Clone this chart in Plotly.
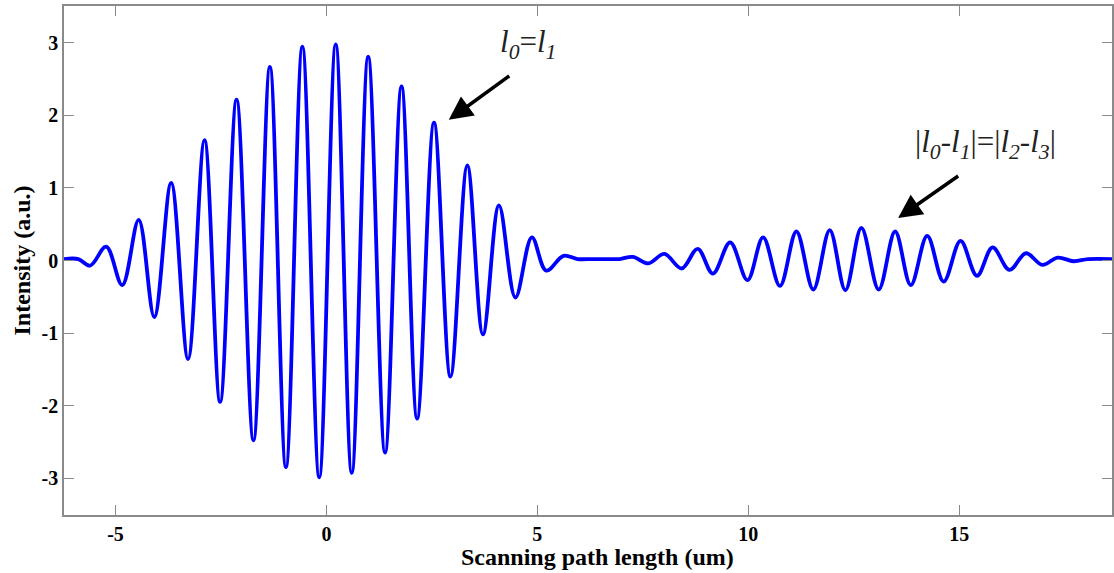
import plotly.graph_objects as go

# Interferogram extrema (path length in um, intensity in a.u.)
path_um = [
    -6.22, -5.88, -5.60, -5.22, -4.84, -4.45, -4.08, -3.68, -3.28, -2.89,
    -2.52, -2.13, -1.73, -1.34, -0.96, -0.57, -0.17, 0.22, 0.60, 0.99,
    1.39, 1.78, 2.15, 2.55, 2.94, 3.34, 3.71, 4.09, 4.48, 4.87,
    5.21, 5.62, 5.95, 6.30, 6.65, 6.95, 7.26, 7.63, 8.01, 8.42,
    8.80, 9.16, 9.57, 9.98, 10.35, 10.75, 11.14, 11.54, 11.93, 12.30,
    12.68, 13.09, 13.48, 13.85, 14.24, 14.63, 15.03, 15.42, 15.79, 16.19,
    16.58, 16.97, 17.33, 17.71, 18.05, 18.62,
]
intensity = [
    0.02, 0.02, -0.07, 0.19, -0.34, 0.56, -0.78, 1.07, -1.36, 1.66,
    -1.95, 2.22, -2.48, 2.67, -2.85, 2.95, -2.99, 2.98, -2.93, 2.81,
    -2.65, 2.40, -2.18, 1.90, -1.60, 1.31, -1.02, 0.76, -0.51, 0.32,
    -0.14, 0.065, 0.02, 0.02, 0.02, 0.02, 0.05, -0.04, 0.09, -0.11,
    0.16, -0.18, 0.25, -0.27, 0.32, -0.35, 0.40, -0.40, 0.42, -0.41,
    0.45, -0.40, 0.40, -0.34, 0.34, -0.29, 0.27, -0.21, 0.18, -0.13,
    0.10, -0.06, 0.04, -0.01, 0.02, 0.02,
]

x_ticks = [-5, 0, 5, 10, 15]
x_tick_text = ["-5", "0", "5", "10", "15"]
y_ticks = [-3, -2, -1, 0, 1, 2, 3]
y_tick_text = ["-3", "-2", "-1", "0", "1", "2", "3"]

SERIF = "Liberation Serif, Times New Roman, serif"
FRAME = "#8a8a8a"

fig = go.Figure()
fig.add_trace(go.Scatter(
    x=path_um, y=intensity, mode="lines",
    line=dict(color="#0000FF", width=3.8, shape="spline", smoothing=1.0),
    showlegend=False, hoverinfo="skip",
))

axis_common = dict(
    showgrid=False, zeroline=False, showline=True, linecolor=FRAME,
    linewidth=1.5, mirror="ticks", ticks="inside", ticklen=10,
    tickcolor=FRAME, tickwidth=1,
    tickfont=dict(family=SERIF, size=20, color="black", weight="bold"),
)

fig.update_xaxes(
    range=[-6.22, 18.62], tickvals=x_ticks, ticktext=x_tick_text,
    **axis_common,
)
fig.update_yaxes(
    range=[-3.51, 3.51], tickvals=y_ticks, ticktext=y_tick_text,
    **axis_common,
    title=dict(text="Intensity (a.u.)", standoff=4,
               font=dict(family=SERIF, size=24, color="black", weight="bold")),
)

# x-axis title, centred slightly right of the plot centre
fig.add_annotation(
    x=0.509, y=-0.083, xref="paper", yref="paper", yanchor="middle",
    text="Scanning path length (um)", showarrow=False,
    font=dict(family=SERIF, size=24, color="black", weight="bold"),
)

# arrows pointing at the two interference packets
arrows = [
    dict(tip=(2.90, 1.94), tail=(4.37, 2.56)),
    dict(tip=(13.55, 0.585), tail=(15.01, 1.18)),
]
for a in arrows:
    fig.add_annotation(
        x=a["tip"][0], y=a["tip"][1], ax=a["tail"][0], ay=a["tail"][1],
        xref="x", yref="y", axref="x", ayref="y", text="",
        showarrow=True, arrowhead=2, arrowsize=1.35, arrowwidth=3.5,
        arrowcolor="black",
    )

labels = [
    dict(x=4.77, y=2.99,
         text="<i>l</i><sub><i>0</i></sub>=<i>l</i><sub><i>1</i></sub>"),
    dict(x=15.63, y=1.61,
         text="|<i>l</i><sub><i>0</i></sub>-<i>l</i><sub><i>1</i></sub>|="
              "|<i>l</i><sub><i>2</i></sub>-<i>l</i><sub><i>3</i></sub>|"),
]
for lb in labels:
    fig.add_annotation(
        x=lb["x"], y=lb["y"], xref="x", yref="y", text=lb["text"],
        showarrow=False, font=dict(family=SERIF, size=31, color="#222222"),
    )

fig.update_layout(
    width=1114, height=573,
    margin=dict(l=64, r=0, t=6, b=58),
    paper_bgcolor="white", plot_bgcolor="white",
)

fig.write_html("out.html")
